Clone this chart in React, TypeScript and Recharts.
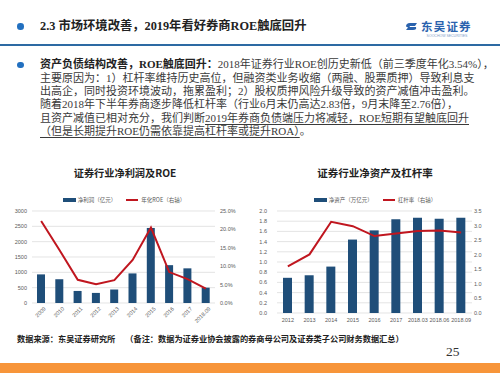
import { ComposedChart, Bar, Line, XAxis, YAxis, CartesianGrid } from "recharts";

const profitYears = ["2009", "2010", "2011", "2012", "2013", "2014", "2015", "2016", "2017", "2018.09"];
const netProfit = [933, 775, 393, 329, 440, 965, 2447, 1234, 1130, 500];
const roe = [22.3, 14.4, 6.3, 5.1, 6.2, 11.7, 20.5, 8.4, 6.5, 3.9];
const profitTicks = [0, 500, 1000, 1500, 2000, 2500, 3000];
const roeTicks = [0, 5, 10, 15, 20, 25];

const assetPeriods = ["2012", "2013", "2014", "2015", "2016", "2017", "2018.03", "2018.06", "2018.09"];
const netAssets = [0.69, 0.74, 0.91, 1.44, 1.62, 1.84, 1.87, 1.85, 1.87];
const leverage = [1.6, 2.01, 3.13, 2.98, 2.64, 2.73, 2.81, 2.83, 2.76];
const assetTicks = [0, 0.2, 0.4, 0.6, 0.8, 1.0, 1.2, 1.4, 1.6, 1.8, 2.0];
const leverageTicks = [0, 0.5, 1.0, 1.5, 2.0, 2.5, 3.0, 3.5];

const profitData = profitYears.map((year, i) => ({ year, profit: netProfit[i], roe: roe[i] }));
const assetData = assetPeriods.map((period, i) => ({ period, assets: netAssets[i], leverage: leverage[i] }));

const BLUE = "#1f4e79";
const RED = "#c0161f";
const GRID = "#d9d9d9";
const TICK = "#595959";
const CHART_FONT = "'Liberation Sans', 'Noto Sans CJK SC', sans-serif";
const CJK = "'Noto Sans CJK SC', sans-serif";
const BODY = "'Liberation Serif', 'Noto Sans CJK SC', serif";

const tickStyle = { fontSize: 5.5, fill: TICK, fontFamily: CHART_FONT };

function SlantTick({ x = 0, y = 0, payload }: any) {
	return (
		<g transform={`translate(${x + 3},${y - 1})`}>
			<text x={0} y={0} dy={3} textAnchor="end" transform="rotate(-45)" {...tickStyle}>
				{payload.value}
			</text>
		</g>
	);
}

function ChartLegend({ center, barLabel, lineLabel }: { center: number; barLabel: string; lineLabel: string }) {
	return (
		<div
			style={{
				position: "absolute",
				left: center - 125,
				width: 250,
				top: 195,
				height: 9,
				display: "flex",
				justifyContent: "center",
				alignItems: "center",
				fontSize: 5.5,
				color: TICK,
				fontFamily: CJK,
				whiteSpace: "nowrap",
			}}
		>
			<div style={{ width: 13, height: 4, background: BLUE, marginRight: 2 }} />
			<span>{barLabel}</span>
			<div style={{ width: 12, height: 2, background: RED, marginLeft: 10, marginRight: 3 }} />
			<span>{lineLabel}</span>
		</div>
	);
}

function TextLine(props: { top: number; children: any }) {
	return (
		<div
			style={{
				position: "absolute",
				left: 40,
				top: props.top,
				height: 13.3,
				lineHeight: "13.3px",
				fontSize: 11,
				whiteSpace: "nowrap",
				color: "#3a3a3a",
				fontFamily: BODY,
			}}
		>
			{props.children}
		</div>
	);
}

export default function App() {
	const lineTop = (i: number) => 58.3 + i * 13.3;
	const u = { textDecoration: "underline", textUnderlineOffset: 2 } as const;
	return (
		<div
			style={{
				position: "absolute",
				left: 0,
				top: 0,
				width: 500,
				height: 373,
				background: "#ffffff",
				overflow: "hidden",
				fontFamily: CJK,
			}}
		>
			{/* header */}
			<div style={{ position: "absolute", left: 17, top: 23, width: 6.5, height: 6.5, borderRadius: "50%", background: "#2270c0" }} />
			<div
				style={{
					position: "absolute",
					left: 40,
					top: 18,
					lineHeight: "16px",
					fontSize: 12.3,
					fontWeight: 700,
					color: "#222",
					fontFamily: BODY,
					whiteSpace: "nowrap",
				}}
			>
				2.3 市场环境改善，2019年看好券商ROE触底回升
			</div>
			<svg style={{ position: "absolute", left: 405, top: 22 }} width={13} height={9}>
				<path d="M1 4.5 Q1 1 5 1 L12 1 L10 4 L5 4 Q4 4.5 5 5 L11 5 Q12 8 8 8 L1 8 L3 5.5 Z" fill="#2a62ad" />
			</svg>
			<div
				style={{
					position: "absolute",
					left: 421,
					top: 20,
					height: 12,
					lineHeight: "12px",
					fontSize: 11.5,
					fontWeight: 700,
					color: "#2a62ad",
					letterSpacing: 1.2,
					whiteSpace: "nowrap",
				}}
			>
				东吴证券
			</div>
			<div
				style={{
					position: "absolute",
					left: 421,
					top: 34,
					width: 52,
					textAlign: "center",
					lineHeight: "4px",
					fontSize: 3.5,
					color: "#7f9cc8",
					fontFamily: "'Liberation Sans', sans-serif",
					whiteSpace: "nowrap",
				}}
			>
				SOOCHOW SECURITIES
			</div>
			<div style={{ position: "absolute", left: 0, top: 44.3, width: 500, height: 1.7, background: "#2d6aa3" }} />

			{/* paragraph */}
			<div style={{ position: "absolute", left: 17, top: 61.5, width: 6.5, height: 6.5, borderRadius: "50%", background: "#2270c0" }} />
			<TextLine top={lineTop(0)}>
				<b style={{ color: "#222" }}>资产负债结构改善，ROE触底回升：</b>2018年证券行业ROE创历史新低（前三季度年化3.54%），
			</TextLine>
			<TextLine top={lineTop(1)}>主要原因为：1）杠杆率维持历史高位，但融资类业务收缩（两融、股票质押）导致利息支</TextLine>
			<TextLine top={lineTop(2)}>出高企，同时投资环境波动，拖累盈利；2）股权质押风险升级导致的资产减值冲击盈利。</TextLine>
			<TextLine top={lineTop(3)}>随着2018年下半年券商逐步降低杠杆率（行业6月末仍高达2.83倍，9月末降至2.76倍），</TextLine>
			<TextLine top={lineTop(4)}>
				且资产减值已相对充分，我们判断<span style={u}>2019年券商负债端压力将减轻，ROE短期有望触底回升</span>
			</TextLine>
			<TextLine top={lineTop(5)}>
				<span style={u}>（但是长期提升ROE仍需依靠提高杠杆率或提升ROA）</span>。
			</TextLine>

			{/* chart titles */}
			<div style={{ position: "absolute", left: 0, width: 250, top: 166, lineHeight: "14px", textAlign: "center", fontSize: 10.2, fontWeight: 700, color: "#222" }}>
				证券行业净利润及ROE
			</div>
			<div style={{ position: "absolute", left: 250, width: 250, top: 166, lineHeight: "14px", textAlign: "center", fontSize: 10.5, fontWeight: 700, color: "#222" }}>
				证券行业净资产及杠杆率
			</div>

			<ChartLegend center={124} barLabel="净利润（亿元）" lineLabel="年化ROE（右轴）" />
			<ChartLegend center={375} barLabel="净资产（万亿元）" lineLabel="杠杆率（右轴）" />

			{/* left chart */}
			<div style={{ position: "absolute", left: 0, top: 190 }}>
				<ComposedChart width={250} height={140} data={profitData} margin={{ top: 21, right: 0, bottom: 0, left: 0 }}>
					<CartesianGrid yAxisId="left" vertical={false} stroke={GRID} strokeWidth={0.7} />
					<XAxis dataKey="year" height={27} interval={0} tickLine={false} axisLine={false} tickSize={3} tickMargin={2} tick={<SlantTick />} />
					<YAxis
						yAxisId="left"
						width={32}
						domain={[0, 3000]}
						ticks={profitTicks}
						interval={0}
						tickLine={false}
						axisLine={false}
						tickSize={3}
						tickMargin={2}
						tick={tickStyle}
					/>
					<YAxis
						yAxisId="right"
						orientation="right"
						width={35}
						domain={[0, 25]}
						ticks={roeTicks}
						interval={0}
						tickLine={false}
						axisLine={false}
						tickSize={3}
						tickMargin={2}
						tick={tickStyle}
						tickFormatter={(v: number) => `${v.toFixed(1)}%`}
					/>
					<Bar yAxisId="left" dataKey="profit" fill={BLUE} barSize={8} isAnimationActive={false} />
					<Line yAxisId="right" dataKey="roe" stroke={RED} strokeWidth={2} dot={false} type="linear" isAnimationActive={false} />
				</ComposedChart>
			</div>

			{/* right chart */}
			<div style={{ position: "absolute", left: 250, top: 190 }}>
				<ComposedChart width={250} height={140} data={assetData} margin={{ top: 21, right: 0, bottom: 0, left: 0 }}>
					<CartesianGrid yAxisId="left" vertical={false} stroke={GRID} strokeWidth={0.7} />
					<XAxis dataKey="period" height={17} interval={0} tickLine={false} axisLine={false} tickSize={3} tickMargin={2} tick={tickStyle} />
					<YAxis
						yAxisId="left"
						width={27}
						domain={[0, 2]}
						ticks={assetTicks}
						interval={0}
						tickLine={false}
						axisLine={false}
						tickSize={4}
						tickMargin={6}
						tick={tickStyle}
						tickFormatter={(v: number) => v.toFixed(1)}
					/>
					<YAxis
						yAxisId="right"
						orientation="right"
						width={28}
						domain={[0, 3.5]}
						ticks={leverageTicks}
						interval={0}
						tickLine={false}
						axisLine={false}
						tickSize={1}
						tickMargin={1}
						tick={tickStyle}
						tickFormatter={(v: number) => v.toFixed(1)}
					/>
					<Bar yAxisId="left" dataKey="assets" fill={BLUE} barSize={9} isAnimationActive={false} />
					<Line yAxisId="right" dataKey="leverage" stroke={RED} strokeWidth={2} dot={false} type="linear" isAnimationActive={false} />
				</ComposedChart>
			</div>

			{/* footer */}
			<div
				style={{
					position: "absolute",
					left: 17,
					top: 332,
					lineHeight: "12px",
					fontSize: 8.2,
					fontWeight: 700,
					color: "#222",
					whiteSpace: "nowrap",
				}}
			>
				数据来源：东吴证券研究所<span style={{ marginLeft: 10 }}>（备注：数据为证券业协会披露的券商母公司及证券类子公司财务数据汇总）</span>
			</div>
			<div
				style={{
					position: "absolute",
					left: 446,
					top: 344,
					lineHeight: "16px",
					fontSize: 13.5,
					color: "#333",
					fontFamily: "'Liberation Serif', serif",
				}}
			>
				25
			</div>
			<div style={{ position: "absolute", left: 0, top: 363, width: 500, height: 10, background: "#f7953a" }} />
		</div>
	);
}
